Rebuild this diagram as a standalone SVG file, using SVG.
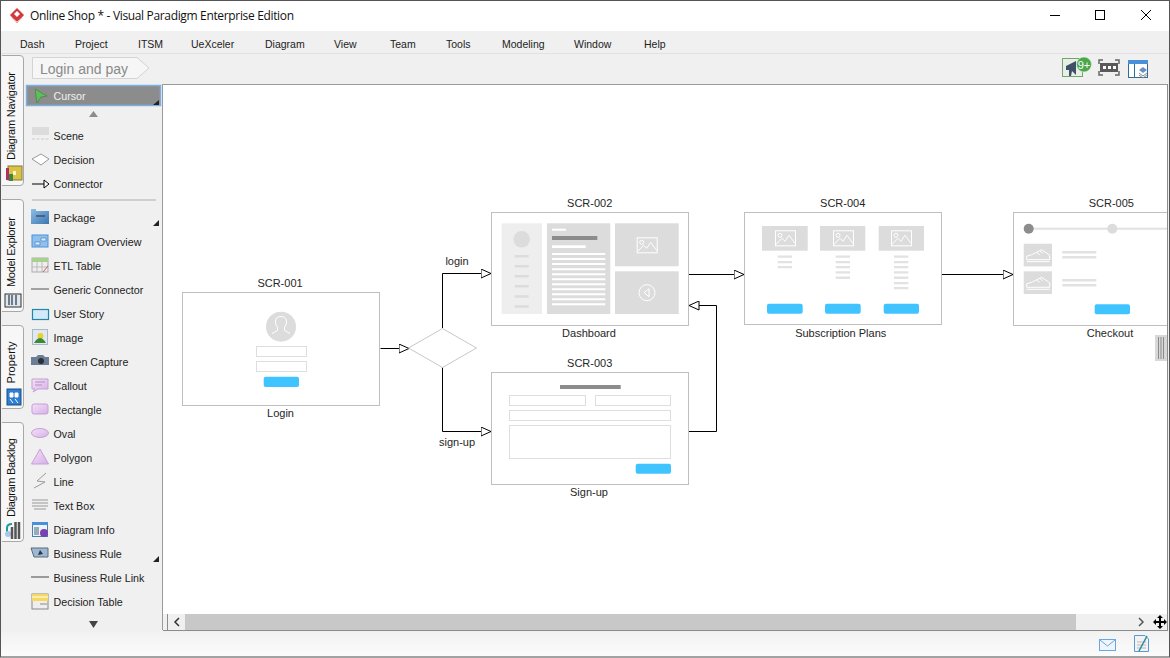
<svg xmlns="http://www.w3.org/2000/svg" xmlns:xlink="http://www.w3.org/1999/xlink" width="1170" height="658" viewBox="0 0 1170 658">
<style>
text{font-family:"Liberation Sans",Arial,sans-serif;font-size:10.5px;fill:#1e1e1e}
.title{font-family:"Open Sans","Noto Sans",sans-serif;font-size:12px;fill:#111}
.lbl{font-size:11px;text-anchor:middle;fill:#262626}
.menu{font-size:10.5px;fill:#222}
.pal{font-size:10.7px;fill:#222}
.tab{font-size:11px;fill:#111}
.frame{fill:#fff;stroke:#bfbfbf;stroke-width:1}
.fld{fill:#fff;stroke:#dedede;stroke-width:1}
.btn{fill:#40c4ff}
.g1{fill:#dcdcdc}
.g0{fill:#eeeeee}
.dk{fill:#8c8c8c}
.wl{fill:#fff}
.ln{fill:#e2e2e2}
.conn{fill:none;stroke:#000;stroke-width:1;marker-end:url(#tri)}
.ic{fill:none;stroke:#fff;stroke-width:1}
.tabbg{fill:#f7f7f7;stroke:#a8a8a8;stroke-width:1}
</style>
<defs>
<marker id="tri" viewBox="0 0 11 10" refX="10.500" refY="5" markerUnits="userSpaceOnUse" markerWidth="11" markerHeight="10" orient="auto">
<path d="M.5 .5L10.500 5L.5 9.500Z" fill="#fff" stroke="#000" stroke-width="1"/>
</marker>
<symbol id="pic" viewBox="0 0 21 16" overflow="visible">
<rect x=".5" y=".5" width="20" height="15" fill="none" stroke="#fff"/>
<circle cx="5" cy="5" r="2" fill="none" stroke="#fff"/>
<path d="M1 14L7 8L10 11L14 5L20 13" fill="none" stroke="#fff"/>
</symbol>
<symbol id="shoe" viewBox="0 0 29 23" overflow="visible">
<path d="M3 12.500L3 16L26 16L26 11.500L18 6L8 11Z M3 18L26 18M13 9L16 11M16 7L19 9.500" fill="none" stroke="#fff"/>
</symbol>
<linearGradient id="bluef" x1="0" y1="0" x2="1" y2="1"><stop offset="0" stop-color="#8fbde6"/><stop offset="1" stop-color="#3c76b0"/></linearGradient>
<linearGradient id="purf" x1="0" y1="0" x2="1" y2="1"><stop offset="0" stop-color="#f3e3f7"/><stop offset="1" stop-color="#d6b0e6"/></linearGradient>
<linearGradient id="stat" x1="0" y1="0" x2="0" y2="1"><stop offset="0" stop-color="#f2f2f2"/><stop offset="1" stop-color="#fbfbfb"/></linearGradient>
<clipPath id="cv"><rect x="163" y="85" width="1004" height="529"/></clipPath>
</defs>

<rect width="1170" height="658" fill="#f0f0f0"/>
<rect x="0" y="0" width="1170" height="31" fill="#fff"/>
<rect x="0" y="632" width="1170" height="24" fill="url(#stat)"/>
<rect x="0" y="53" width="1170" height="1" fill="#e2e2e2"/>
<g id="titlebar">
<path d="M17 8L24 15L17 23L10 15Z" fill="#d13a3a"/><path d="M14 14L17 11L20 14L17 17Z" fill="#fff"/><path d="M12 18L17 22L22 18" fill="none" stroke="#f3c6c6"/>
<text class="title" x="30" y="20" textLength="264">Online Shop * - Visual Paradigm Enterprise Edition</text>
<path d="M1050 15.500H1060" stroke="#000" fill="none"/>
<rect x="1095.500" y="10.500" width="9" height="9" fill="none" stroke="#000"/>
<path d="M1141 10L1151 20M1151 10L1141 20" stroke="#000" fill="none"/>
</g>
<g id="menu">
<text class="menu" x="20" y="48">Dash</text><text class="menu" x="75" y="48">Project</text><text class="menu" x="138" y="48">ITSM</text><text class="menu" x="191" y="48">UeXceler</text><text class="menu" x="265" y="48">Diagram</text><text class="menu" x="334" y="48">View</text><text class="menu" x="390" y="48">Team</text><text class="menu" x="446" y="48">Tools</text><text class="menu" x="502" y="48">Modeling</text><text class="menu" x="574" y="48">Window</text><text class="menu" x="644" y="48">Help</text>
</g>
<g id="breadcrumb">
<path d="M32.500 57.500H137L149 68L137 78.500H32.500Z" fill="#f6f6f6" stroke="#d4d4d4"/>
<text x="40" y="74" style="font-size:14px;fill:#8a8a8a">Login and pay</text>
</g>
<g id="toolbar-icons">
<rect x="1062.500" y="58.500" width="20" height="18" fill="#e8efe6" stroke="#6ea86e"/>
<path d="M1066 66L1076 61V75L1072 71L1071 76H1069L1069 70H1066Z" fill="#3f5068"/>
<circle cx="1084" cy="64.500" r="7.500" fill="#4aa84a" stroke="#e8f2e8" stroke-width=".6"/>
<text x="1084" y="68.500" style="font-size:11px;fill:#fff;text-anchor:middle">9+</text>
<rect x="1100" y="63" width="18" height="9" fill="#5a5a5a"/><path d="M1103 66h3v3h-3zM1108 66h3v3h-3zM1113 66h3v3h-3z" fill="#fff"/>
<path d="M1099 64V60H1103M1115 60H1119V64M1119 71V75H1115M1103 75H1099V71" fill="none" stroke="#666" stroke-width="1.500"/>
<rect x="1128.500" y="60.500" width="19" height="17" fill="#fff" stroke="#2c6e9e"/><rect x="1128" y="60" width="20" height="4" fill="#4a90d9"/><path d="M1134.500 64V78" stroke="#2c6e9e"/>
<path d="M1139 70L1143 67L1147 70L1143 73Z" fill="#6a8fc0"/><path d="M1139 73L1143 76L1147 73M1139 75L1143 78L1147 75" fill="none" stroke="#888"/>
</g>

<g id="side-tabs">
<path class="tabbg" d="M2 55.500H20Q23.500 55.500 23.500 59V182Q23.500 185.500 20 185.500H2"/>
<text class="tab" transform="translate(14.500 160) rotate(-90)" textLength="88">Diagram Navigator</text>
<rect x="8" y="166" width="14" height="14" fill="#d8c24a" stroke="#8a7a2a"/><rect x="6" y="168" width="3" height="12" fill="#b03060"/><rect x="9" y="174" width="4" height="7" fill="#3a8a3a"/><rect x="13" y="171" width="3" height="4" fill="#fff6c0"/>
<path class="tabbg" d="M2 199.500H20Q23.500 199.500 23.500 203V308Q23.500 311.500 20 311.500H2"/>
<text class="tab" transform="translate(14.500 287) rotate(-90)" textLength="70">Model Explorer</text>
<rect x="5" y="294" width="16" height="13" fill="#dfe6ec" stroke="#333"/><path d="M9 295V305M12 295V305M16 295V305" stroke="#4a5a6a" stroke-width="1.500"/>
<path class="tabbg" d="M2 325.500H20Q23.500 325.500 23.500 329V405Q23.500 408.500 20 408.500H2"/>
<text class="tab" transform="translate(14.500 383.500) rotate(-90)" textLength="42">Property</text>
<rect x="7" y="389" width="14" height="16" fill="#2f7fd0" stroke="#1a4f8a"/><path d="M10 393h3v4h-3zM15 393h3v4h-3zM10 399l3 4M15 399l3 4" fill="#fff" stroke="#fff"/>
<path class="tabbg" d="M2 422.500H20Q23.500 422.500 23.500 426V538Q23.500 541.500 20 541.500H2"/>
<text class="tab" transform="translate(14.500 517) rotate(-90)" textLength="79">Diagram Backlog</text>
<path d="M7 536V528Q7 524 12 524" fill="none" stroke="#1f9a9a" stroke-width="2"/><circle cx="8" cy="534" r="3" fill="#a8c8e8"/><path d="M12 527V539M15.500 522V539M19 522V539" stroke="#555" stroke-width="2.500"/>
</g>

<g id="palette">
<rect x="26.500" y="85.500" width="134" height="20" fill="#8c8c8c" stroke="#7cb0e5" stroke-width="1.500"/>
<path d="M35 89L47 96L41 97L37 103Z" fill="#5cbf5c" stroke="#3a7a3a" stroke-width=".6"/>
<text class="pal" x="53.500" y="100" style="fill:#f0f0f0">Cursor</text>
<path d="M159 100V105H153Z" fill="#222"/>
<path d="M93.500 111L98 117H89Z" fill="#8c8c8c"/>
<rect x="32" y="127" width="17" height="8" fill="#dcdcdc"/><path d="M32 139H49" stroke="#ccc" stroke-dasharray="3 1.500"/>
<text class="pal" x="53.500" y="140">Scene</text>
<path d="M32 159L41 154L49 159L41 165Z" fill="#fff" stroke="#999"/>
<text class="pal" x="53.500" y="164">Decision</text>
<path d="M32 184H44" stroke="#000"/><path d="M44 180L49 184L44 188Z" fill="#fff" stroke="#000"/>
<text class="pal" x="53.500" y="188">Connector</text>
<rect x="32" y="199" width="124" height="2" fill="#cfcfcf"/>
<path d="M31 209H36V211H49V224H31Z" fill="url(#bluef)"/><path d="M36 216H45" stroke="#234" />
<text class="pal" x="53.500" y="222">Package</text>
<path d="M159 220V226H153Z" fill="#222"/>
<rect x="32" y="235" width="16" height="12" fill="#8ec1ee" stroke="#4a90d9"/><path d="M35 242h5v3h-5zM41 238h5v3h-5z" fill="#dcecfa" stroke="#3a70b0" stroke-width=".6"/>
<text class="pal" x="53.500" y="246">Diagram Overview</text>
<rect x="32" y="258" width="16" height="14" fill="#eee" stroke="#aaa"/><rect x="32" y="258" width="16" height="4" fill="#a8d08d"/><path d="M37 262V272M42 262V272M32 267H48" stroke="#bbb"/><path d="M43 272L48 266" stroke="#c06060"/>
<text class="pal" x="53.500" y="270">ETL Table</text>
<path d="M31 289H49" stroke="#888" stroke-width="1.500"/>
<text class="pal" x="53.500" y="294">Generic Connector</text>
<rect x="32.500" y="309.500" width="16" height="10" fill="#d3e9f7" stroke="#1f87a8" stroke-width="1.200"/>
<text class="pal" x="53.500" y="318">User Story</text>
<rect x="32.500" y="329.500" width="15" height="15" fill="#e2e8f0" stroke="#a8b8c8"/><circle cx="40.500" cy="336" r="3" fill="#e8d030"/><path d="M34 343Q40 333 46 343Z" fill="#3a8a3a"/>
<text class="pal" x="53.500" y="342">Image</text>
<path d="M31 357H36L38 355H43L45 357H49V365H31Z" fill="#6a7f96"/><circle cx="41" cy="361" r="3" fill="#2a3038"/>
<text class="pal" x="53.500" y="366">Screen Capture</text>
<path d="M32 379H48V389H38L33 392L35 389H32Z" fill="url(#purf)" stroke="#c79fd8"/><path d="M35 382H45M35 385H42" stroke="#b090c0"/>
<text class="pal" x="53.500" y="390">Callout</text>
<rect x="32" y="404" width="16" height="10" rx="2" fill="url(#purf)" stroke="#c79fd8"/>
<text class="pal" x="53.500" y="414">Rectangle</text>
<ellipse cx="40" cy="433" rx="8.500" ry="4.500" fill="url(#purf)" stroke="#c79fd8"/>
<text class="pal" x="53.500" y="438">Oval</text>
<path d="M40 449L48.500 464H31.500Z" fill="url(#purf)" stroke="#c79fd8"/>
<text class="pal" x="53.500" y="462">Polygon</text>
<path d="M46 473L37 481L45 482L34 488" fill="none" stroke="#9a9a9a"/>
<text class="pal" x="53.500" y="486">Line</text>
<path d="M32 500H48M32 503H48M32 506H48M34 509H46" stroke="#999"/>
<text class="pal" x="53.500" y="510">Text Box</text>
<rect x="32.500" y="522.500" width="15" height="14" fill="#eef3f8" stroke="#4a80b0"/><rect x="32" y="522" width="16" height="3" fill="#4a90d9"/><rect x="34" y="527" width="5" height="8" fill="#9ab"/><circle cx="44" cy="533" r="4" fill="#7a3fb0"/>
<text class="pal" x="53.500" y="534">Diagram Info</text>
<path d="M31 548H48V557H34Z" fill="#9db8d2" stroke="#5a6a7a"/><path d="M38 555L40 550L43 554Z" fill="#334"/>
<text class="pal" x="53.500" y="558">Business Rule</text>
<path d="M159 556V562H153Z" fill="#222"/>
<path d="M31 577H49" stroke="#444"/>
<text class="pal" x="53.500" y="582">Business Rule Link</text>
<rect x="32" y="594" width="16" height="15" fill="#eee" stroke="#888"/><rect x="32" y="594" width="16" height="7" fill="#f6d860"/><path d="M32 597H48" stroke="#fff"/><path d="M40 604h7" stroke="#888"/>
<text class="pal" x="53.500" y="606">Decision Table</text>
<path d="M89 621H98L93.500 628Z" fill="#444"/>
</g>

<rect x="163" y="85" width="1004" height="529" fill="#fff"/>
<path d="M162.500 84V630M162 84.500H1168" stroke="#9a9a9a" fill="none"/>

<g id="connectors">
<path class="conn" d="M380.500 348.500H409"/>
<path class="conn" d="M442.500 328V273.500H491"/>
<path class="conn" d="M442.500 367V431.500H491"/>
<path class="conn" d="M689 274.500H744"/>
<path class="conn" d="M689 431.500H716.500V305.500H689"/>
<path class="conn" d="M942 274.500H1013"/>
<text class="lbl" x="457" y="265">login</text>
<text class="lbl" x="457" y="446">sign-up</text>
</g>

<g id="decision"><path d="M408.500 348L442.500 328.500L476.500 348L442.500 367.500Z" fill="#fff" stroke="#c8c8c8"/></g>

<g id="scr-001">
<text class="lbl" x="280" y="287">SCR-001</text>
<rect class="frame" x="182.500" y="292.500" width="197" height="113"/>
<circle class="g1" cx="281" cy="326.700" r="15"/>
<path d="M272 333.500L277.500 330.500V327.500Q275 324 275.500 321Q276 316.500 281 316.500Q286 316.500 286.500 321Q287 324 284.500 327.500V330.500L290 333.500" class="ic"/>
<rect class="fld" x="256.500" y="346.500" width="50" height="10"/>
<rect class="fld" x="256.500" y="361.500" width="50" height="10"/>
<rect class="btn" x="263.700" y="376.700" width="35.300" height="10.300" rx="2"/>
<text class="lbl" x="280.500" y="417">Login</text>
</g>

<g id="scr-002">
<text class="lbl" x="589.700" y="207">SCR-002</text>
<rect class="frame" x="491.500" y="212.500" width="197" height="113"/>
<rect class="g0" x="501.700" y="223.300" width="40.300" height="90.700"/>
<circle class="g1" cx="521.700" cy="239.300" r="8.300"/>
<path class="g1" d="M514.700 255h14v2.500h-14zM514.700 265h14v2.500h-14zM514.700 275h14v2.500h-14zM514.700 285h14v2.500h-14zM514.700 295.300h14v2.500h-14zM514.700 305.300h14v2.500h-14z"/>
<rect class="g1" x="547" y="223.300" width="63.300" height="90.700"/>
<rect class="wl" x="552" y="228.700" width="14" height="2"/>
<rect class="dk" x="552" y="236" width="45.300" height="4"/>
<rect class="wl" x="552" y="245.300" width="33.700" height="2.700"/>
<path class="wl" d="M552 253h53.300v2h-53.300zM552 258h53.300v2h-53.300zM552 263h53.300v2h-53.300zM552 268.300h53.300v2h-53.300zM552 273.300h53.300v2h-53.300zM552 278.300h53.300v2h-53.300zM552 283.300h53.300v2h-53.300zM552 288.300h53.300v2h-53.300zM552 293.300h53.300v2h-53.300zM552 298.300h53.300v2h-53.300zM552 303.300h53.300v2h-53.300z"/>
<rect class="g1" x="615" y="223.300" width="63.700" height="43"/>
<use xlink:href="#pic" href="#pic" x="636.700" y="237.300" width="21" height="16"/>
<rect class="g1" x="615" y="271.300" width="63.700" height="42.700"/>
<circle class="ic" cx="647" cy="292.700" r="8"/>
<path class="ic" d="M649 288.700L644 292.700L649 296.700Z"/>
<text class="lbl" x="589" y="337">Dashboard</text>
</g>

<g id="scr-003">
<text class="lbl" x="589.700" y="367">SCR-003</text>
<rect class="frame" x="491.500" y="372.500" width="197" height="112"/>
<rect class="dk" x="560" y="385" width="60.700" height="4"/>
<rect class="fld" x="509.500" y="395.500" width="76" height="10"/>
<rect class="fld" x="595.500" y="395.500" width="75" height="10"/>
<rect class="fld" x="509.500" y="410.500" width="161" height="10"/>
<rect class="fld" x="509.500" y="425.500" width="161" height="33"/>
<rect class="btn" x="635.700" y="463.700" width="35.300" height="10" rx="2"/>
<text class="lbl" x="589" y="496">Sign-up</text>
</g>

<g id="scr-004">
<text class="lbl" x="842.700" y="207">SCR-004</text>
<rect class="frame" x="744.500" y="212.500" width="197" height="112"/>
<rect class="g1" x="762" y="226" width="45.700" height="24.700"/>
<rect class="g1" x="820" y="226" width="45.300" height="24.700"/>
<rect class="g1" x="878.700" y="226" width="45.300" height="24.700"/>
<use xlink:href="#pic" href="#pic" x="775" y="230.300" width="21" height="16"/>
<use xlink:href="#pic" href="#pic" x="833" y="230.300" width="21" height="16"/>
<use xlink:href="#pic" href="#pic" x="891" y="230.300" width="21" height="16"/>
<path class="ln" d="M777.700 255.500h14.300v2.300h-14.300zM777.700 261h14.300v2.300h-14.300zM777.700 266h14.300v2.300h-14.300z"/>
<path class="ln" d="M835.700 255.500h14.300v2.300h-14.300zM835.700 261h14.300v2.300h-14.300zM835.700 266h14.300v2.300h-14.300zM835.700 271.300h14.300v2.300h-14.300zM835.700 276.600h14.300v2.300h-14.300z"/>
<path class="ln" d="M894 255.500h14.300v2.300h-14.300zM894 261h14.300v2.300h-14.300zM894 266h14.300v2.300h-14.300zM894 271.300h14.300v2.300h-14.300zM894 276.600h14.300v2.300h-14.300zM894 281.900h14.300v2.300h-14.300zM894 287h14.300v2.300h-14.300z"/>
<rect class="btn" x="767" y="303.700" width="35.700" height="10" rx="2"/>
<rect class="btn" x="825" y="303.700" width="35.700" height="10" rx="2"/>
<rect class="btn" x="883.700" y="303.700" width="35.300" height="10" rx="2"/>
<text class="lbl" x="840.700" y="336.500">Subscription Plans</text>
</g>

<g id="scr-005">
<text class="lbl" x="1111.300" y="207">SCR-005</text>
<g clip-path="url(#cv)">
<rect class="frame" x="1013.500" y="212.500" width="197" height="113"/>
<rect class="ln" x="1030" y="227.700" width="137" height="2"/>
<circle class="dk" cx="1028.700" cy="228.700" r="5"/>
<circle class="g1" cx="1112.300" cy="228.700" r="5"/>
<rect class="g1" x="1023.700" y="243.700" width="28.300" height="22.700"/>
<rect class="g1" x="1023.700" y="271.300" width="28.300" height="22.700"/>
<use xlink:href="#shoe" href="#shoe" x="1023.700" y="243.700" width="29" height="23"/>
<use xlink:href="#shoe" href="#shoe" x="1023.700" y="271.300" width="29" height="23"/>
<path class="ln" d="M1062.300 251h34v2.500h-34zM1062.300 256h34v2.500h-34zM1062.300 279h34v2.500h-34zM1062.300 284h34v2.500h-34z"/>
<rect class="btn" x="1094.700" y="304.300" width="35.300" height="10" rx="2"/>
</g>
<text class="lbl" x="1110" y="337">Checkout</text>
</g>

<g id="chrome-bottom">
<rect x="1155" y="335" width="12" height="26" fill="#d8d8d8"/><path d="M1158.500 337V359M1161 337V359M1163.500 337V359" stroke="#8a8a8a"/>
<rect x="167" y="614" width="1000" height="16" fill="#f0f0f0"/>
<rect x="185" y="614" width="891" height="16" fill="#c8c8c8"/>
<path d="M179 618L175 622L179 626" fill="none" stroke="#333" stroke-width="1.500"/>
<path d="M1139 618L1143 622L1139 626" fill="none" stroke="#555" stroke-width="1.500"/>
<path d="M163 630.500H1168M167.500 614V630M1167.500 84V630" stroke="#8c8c8c" fill="none"/>
<path d="M1160 615L1163 618H1161V621H1164V619L1167 622L1164 625V623H1161V626H1163L1160 629L1157 626H1159V623H1156V625L1153 622L1156 619V621H1159V618H1157Z" fill="#000"/>
<rect x="1099.500" y="639.500" width="16" height="11" fill="#eef5fc" stroke="#6aa6e0"/><path d="M1100 640L1107.500 646L1115 640" fill="none" stroke="#6aa6e0"/>
<path d="M1134.500 635.500H1145L1148.500 639V651.500H1134.500Z" fill="#f2f2f2" stroke="#5a9ad0"/><path d="M1137 642H1146M1137 645H1146M1137 648H1146" stroke="#bbb"/><path d="M1139 651L1147 636" stroke="#2a8aa0" stroke-width="1.500"/>
</g>
<rect x=".5" y=".5" width="1169" height="656.500" fill="none" stroke="#555"/>
</svg>
